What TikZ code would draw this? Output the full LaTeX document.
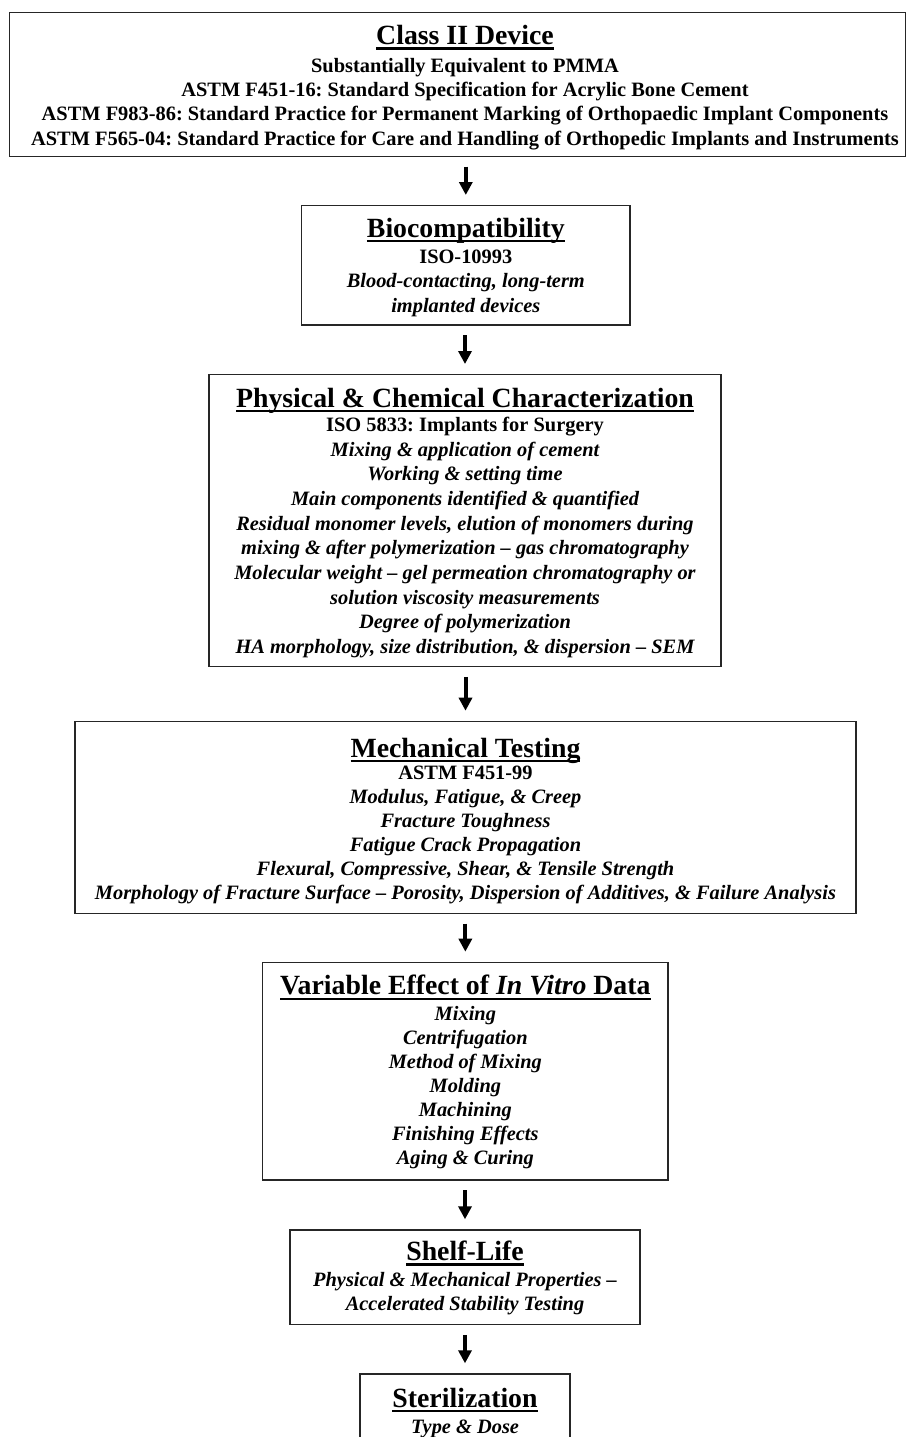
\documentclass[tikz,border=0pt]{standalone}
\usepackage{fontspec}
\setmainfont{Liberation Serif}
\usetikzlibrary{arrows.meta}
\frenchspacing
\newcommand\tul[1]{\setbox0=\hbox{#1}\rlap{\rule[-5pt]{\wd0}{2.2pt}}\box0}
\newcommand\ttl[1]{{\fontsize{27.8}{30}\selectfont\tul{#1}}}
\newcommand\tp[1]{\rule{0pt}{#1pt}}
\newcommand\bt[1]{\rule[-#1pt]{0pt}{#1pt}}
\tikzset{
  frame/.style={draw=black!85, line width=1.3pt, inner sep=0pt, anchor=north, align=center},
  body/.style={font=\frenchspacing\bfseries\fontsize{20.4}{#1}\selectfont},
  body/.default=24.3,
  arr/.style={line width=4pt, -{Triangle[width=13pt,length=13pt]}, shorten <=9.5pt, shorten >=10pt},
}
\begin{document}
\begin{tikzpicture}[x=1pt,y=-1pt]
\clip (0,0) rectangle (906,1437);
\fill[white] (0,0) rectangle (906,1437);

% Class II device
\node[frame, minimum width=896.4pt, minimum height=143.7pt] (cls) at (457.5,12) {};
\node[body=24.2, inner sep=0pt, anchor=north, align=center] (clstxt) at (465,12)
  {\tp{32.3}\ttl{Class II Device}\\[3.8pt]
   Substantially Equivalent to PMMA\\
   ASTM F451-16: Standard Specification for Acrylic Bone Cement\\
   ASTM F983-86: Standard Practice for Permanent Marking of Orthopaedic Implant Components\\
   ASTM F565-04: Standard Practice for Care and Handling of Orthopedic Implants and Instruments\bt{10.7}};

% Biocompatibility
\node[frame, body=24.5, minimum width=328.3pt] (bio) at (465.8,205)
  {\tp{31.7}\ttl{Biocompatibility}\\[1.5pt]
   ISO-10993\\
   \itshape Blood-contacting, long-term\\
   \itshape implanted devices\bt{12.6}};

% Physical & chemical
\node[frame, body=24.7, minimum width=512pt] (phys) at (465,374)
  {\tp{32.7}\ttl{Physical \& Chemical Characterization}\\[-0.7pt]
   ISO 5833: Implants for Surgery\\
   \itshape Mixing \& application of cement\\
   \itshape Working \& setting time\\
   \itshape Main components identified \& quantified\\
   \itshape Residual monomer levels, elution of monomers during\\
   \itshape mixing \& after polymerization – gas chromatography\\
   \itshape Molecular weight – gel permeation chromatography or\\
   \itshape solution viscosity measurements\\
   \itshape Degree of polymerization\\
   \itshape HA morphology, size distribution, \& dispersion – SEM\bt{13}};

% Mechanical testing
\node[frame, body=24, minimum width=781pt] (mech) at (465.5,720.7)
  {\tp{36}\ttl{Mechanical Testing}\\[-1.7pt]
   ASTM F451-99\\
   \itshape Modulus, Fatigue, \& Creep\\
   \itshape Fracture Toughness\\
   \itshape Fatigue Crack Propagation\\
   \itshape Flexural, Compressive, Shear, \& Tensile Strength\\
   \itshape Morphology of Fracture Surface – Porosity, Dispersion of Additives, \& Failure Analysis\bt{13.7}};

% Variable effect
\node[frame, body=24.05, minimum width=405.3pt] (var) at (465.35,961.7)
  {\tp{32.6}\ttl{Variable Effect of \textit{In Vitro} Data}\\[1.65pt]
   \itshape Mixing\\
   \itshape Centrifugation\\
   \itshape Method of Mixing\\
   \itshape Molding\\
   \itshape Machining\\
   \itshape Finishing Effects\\
   \itshape Aging \& Curing\bt{15}};

% Shelf-life
\node[frame, body=24, minimum width=350pt] (shelf) at (465,1229.3)
  {\tp{30.7}\ttl{Shelf-Life}\\[2pt]
   \itshape Physical \& Mechanical Properties –\\
   \itshape Accelerated Stability Testing\bt{14}};

% Sterilization
\node[frame, body=24.3, minimum width=210pt] (ster) at (465,1373.3)
  {\tp{33.4}\ttl{Sterilization}\\[2.3pt]
   \itshape Type \& Dose\bt{17}};

% arrows
\draw[arr] (cls.south -| bio.north) -- (bio.north);
\draw[arr] (bio.south -| phys.north) -- (phys.north);
\draw[arr] (phys.south -| mech.north) -- (mech.north);
\draw[arr] (mech.south -| var.north) -- (var.north);
\draw[arr] (var.south -| shelf.north) -- (shelf.north);
\draw[arr] (shelf.south -| ster.north) -- (ster.north);
\end{tikzpicture}
\end{document}
